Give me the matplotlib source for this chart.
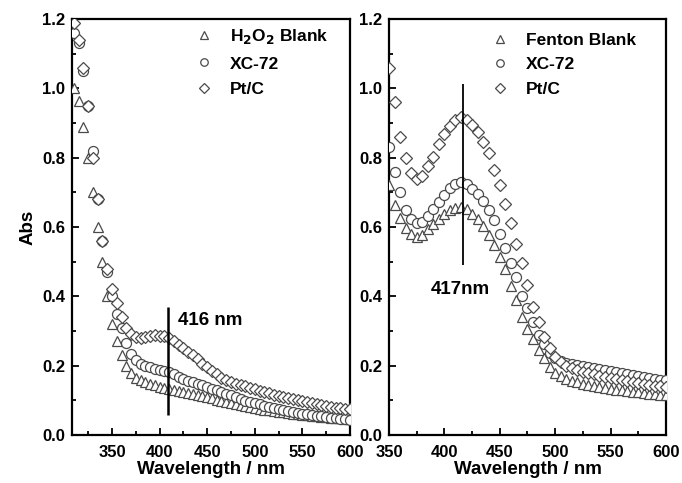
import numpy as np
import matplotlib
matplotlib.use("Agg")
import matplotlib.pyplot as plt
from matplotlib.ticker import MultipleLocator, FormatStrFormatter

plt.rcParams['font.family'] = ['Liberation Sans', 'DejaVu Sans']
plt.rcParams['font.weight'] = 'bold'
plt.rcParams['mathtext.default'] = 'bf'

# left panel: H2O2 system
wl_left = list(range(310, 601, 5))
h2o2_blank = [1.00, 0.965, 0.89, 0.80, 0.70, 0.60, 0.50, 0.40, 0.32, 0.27,
              0.23, 0.20, 0.18, 0.165, 0.158, 0.152, 0.147, 0.143, 0.139, 0.136,
              0.133, 0.130, 0.127, 0.124, 0.121, 0.118, 0.115, 0.112, 0.109, 0.106,
              0.102, 0.099, 0.096, 0.092, 0.089, 0.086, 0.083, 0.080, 0.077, 0.075,
              0.073, 0.071, 0.069, 0.067, 0.065, 0.063, 0.062, 0.060, 0.059, 0.057,
              0.056, 0.054, 0.053, 0.052, 0.050, 0.049, 0.048, 0.047, 0.046]
h2o2_xc72 = [1.16, 1.13, 1.05, 0.95, 0.82, 0.68, 0.56, 0.47, 0.40, 0.35,
             0.31, 0.265, 0.235, 0.215, 0.205, 0.199, 0.195, 0.191, 0.187, 0.184,
             0.181, 0.175, 0.168, 0.162, 0.157, 0.152, 0.148, 0.143, 0.139, 0.134,
             0.129, 0.124, 0.119, 0.114, 0.109, 0.104, 0.099, 0.095, 0.091, 0.088,
             0.085, 0.082, 0.079, 0.076, 0.073, 0.070, 0.067, 0.064, 0.062, 0.060,
             0.058, 0.056, 0.054, 0.052, 0.050, 0.048, 0.046, 0.045, 0.044]
h2o2_ptc = [1.19, 1.14, 1.06, 0.95, 0.80, 0.68, 0.56, 0.48, 0.42, 0.38,
            0.34, 0.31, 0.29, 0.283, 0.280, 0.282, 0.285, 0.288, 0.287, 0.285,
            0.280, 0.270, 0.260, 0.250, 0.240, 0.230, 0.218, 0.205, 0.195, 0.185,
            0.175, 0.165, 0.158, 0.152, 0.147, 0.143, 0.140, 0.137, 0.132, 0.128,
            0.124, 0.120, 0.116, 0.113, 0.110, 0.107, 0.104, 0.100, 0.097, 0.094,
            0.091, 0.088, 0.086, 0.083, 0.081, 0.079, 0.077, 0.076, 0.075]

# right panel: Fenton system
wl_right = list(range(350, 601, 5))
fenton_blank = [0.72, 0.665, 0.625, 0.598, 0.58, 0.57, 0.578, 0.593, 0.61, 0.624,
                0.638, 0.648, 0.656, 0.659, 0.652, 0.637, 0.622, 0.603, 0.578, 0.548,
                0.515, 0.478, 0.43, 0.39, 0.34, 0.305, 0.278, 0.245, 0.223, 0.197,
                0.18, 0.17, 0.163, 0.157, 0.152, 0.148, 0.145, 0.142, 0.139, 0.136,
                0.134, 0.131, 0.129, 0.127, 0.125, 0.123, 0.121, 0.119, 0.118, 0.116,
                0.115]
fenton_xc72 = [0.83, 0.76, 0.70, 0.648, 0.622, 0.613, 0.616, 0.632, 0.653, 0.672,
               0.692, 0.712, 0.724, 0.731, 0.725, 0.71, 0.695, 0.675, 0.65, 0.62,
               0.58, 0.54, 0.495, 0.455, 0.40, 0.365, 0.325, 0.288, 0.262, 0.236,
               0.222, 0.213, 0.208, 0.205, 0.202, 0.199, 0.196, 0.193, 0.19, 0.187,
               0.184, 0.181, 0.178, 0.175, 0.172, 0.169, 0.166, 0.164, 0.162, 0.160,
               0.158]
fenton_ptc = [1.06, 0.96, 0.86, 0.80, 0.755, 0.74, 0.747, 0.775, 0.803, 0.84,
              0.868, 0.893, 0.91, 0.918, 0.908, 0.895, 0.875, 0.845, 0.813, 0.766,
              0.722, 0.666, 0.612, 0.55, 0.495, 0.433, 0.37, 0.325, 0.282, 0.25,
              0.225, 0.21, 0.198, 0.192, 0.187, 0.183, 0.179, 0.175, 0.171, 0.168,
              0.165, 0.162, 0.159, 0.156, 0.153, 0.150, 0.147, 0.145, 0.142, 0.140,
              0.138]

left_labels = ['H$_2$O$_2$ Blank', 'XC-72', 'Pt/C']
right_labels = ['Fenton Blank', 'XC-72', 'Pt/C']

fig = plt.figure(figsize=(6.82, 4.83), dpi=100)
ax1 = fig.add_axes([0.1056, 0.0994, 0.4076, 0.861])
ax2 = fig.add_axes([0.5704, 0.0994, 0.406, 0.861])

edge = '#4a4a4a'
mk = dict(linestyle='none', markersize=7.2, markerfacecolor='white',
          markeredgecolor=edge, markeredgewidth=0.9)
leg_kw = dict(loc='upper left', frameon=False, handlelength=1.0, handletextpad=1.0,
              borderpad=0, borderaxespad=0, markerscale=0.75,
              prop={'weight': 'bold', 'size': 12.5})


def style_axis(ax, xlim):
    ax.set_xlim(*xlim)
    ax.set_ylim(0, 1.2)
    ax.xaxis.set_major_locator(MultipleLocator(50))
    ax.xaxis.set_minor_locator(MultipleLocator(25))
    ax.yaxis.set_major_locator(MultipleLocator(0.2))
    ax.yaxis.set_minor_locator(MultipleLocator(0.1))
    ax.yaxis.set_major_formatter(FormatStrFormatter('%.1f'))
    ax.tick_params(which='both', direction='in', top=False, right=False,
                   width=1.3, labelsize=12, pad=5)
    ax.tick_params(axis='x', which='both', pad=7)
    ax.tick_params(which='major', length=5)
    ax.tick_params(which='minor', length=3)
    for s in ax.spines.values():
        s.set_linewidth(1.6)
    for lab in ax.get_xticklabels() + ax.get_yticklabels():
        lab.set_fontweight('bold')
    ax.set_xlabel('Wavelength / nm', fontsize=13.5, fontweight='bold', labelpad=1)


# left panel
ax1.plot(wl_left, h2o2_blank, marker='^', label=left_labels[0], zorder=3, **mk)
ax1.plot(wl_left, h2o2_xc72, marker='o', label=left_labels[1], zorder=4, **mk)
ax1.plot(wl_left, h2o2_ptc, marker='D', label=left_labels[2], zorder=5,
         **dict(mk, markersize=6.2))
style_axis(ax1, (308, 600))
ax1.set_ylabel('Abs', fontsize=13.5, fontweight='bold', labelpad=4)
ax1.vlines(409, 0.058, 0.37, color='black', linewidth=1.8, zorder=6)
ax1.text(419, 0.33, '416 nm', fontsize=13.5, fontweight='bold', va='center')
ax1.legend(bbox_to_anchor=(0.4435, 0.982), labelspacing=0.62, **leg_kw)

# right panel
ax2.plot(wl_right, fenton_blank, marker='^', label=right_labels[0], zorder=3, **mk)
ax2.plot(wl_right, fenton_xc72, marker='o', label=right_labels[1], zorder=4, **mk)
ax2.plot(wl_right, fenton_ptc, marker='D', label=right_labels[2], zorder=5,
         **dict(mk, markersize=6.2))
style_axis(ax2, (350, 600))
ax2.vlines(416.5, 0.49, 1.014, color='black', linewidth=1.3, zorder=6)
ax2.text(414, 0.42, '417nm', fontsize=13.5, fontweight='bold', ha='center', va='center')
ax2.legend(bbox_to_anchor=(0.369, 0.968), labelspacing=0.55, **leg_kw)

fig.savefig('out.png', dpi=100)
